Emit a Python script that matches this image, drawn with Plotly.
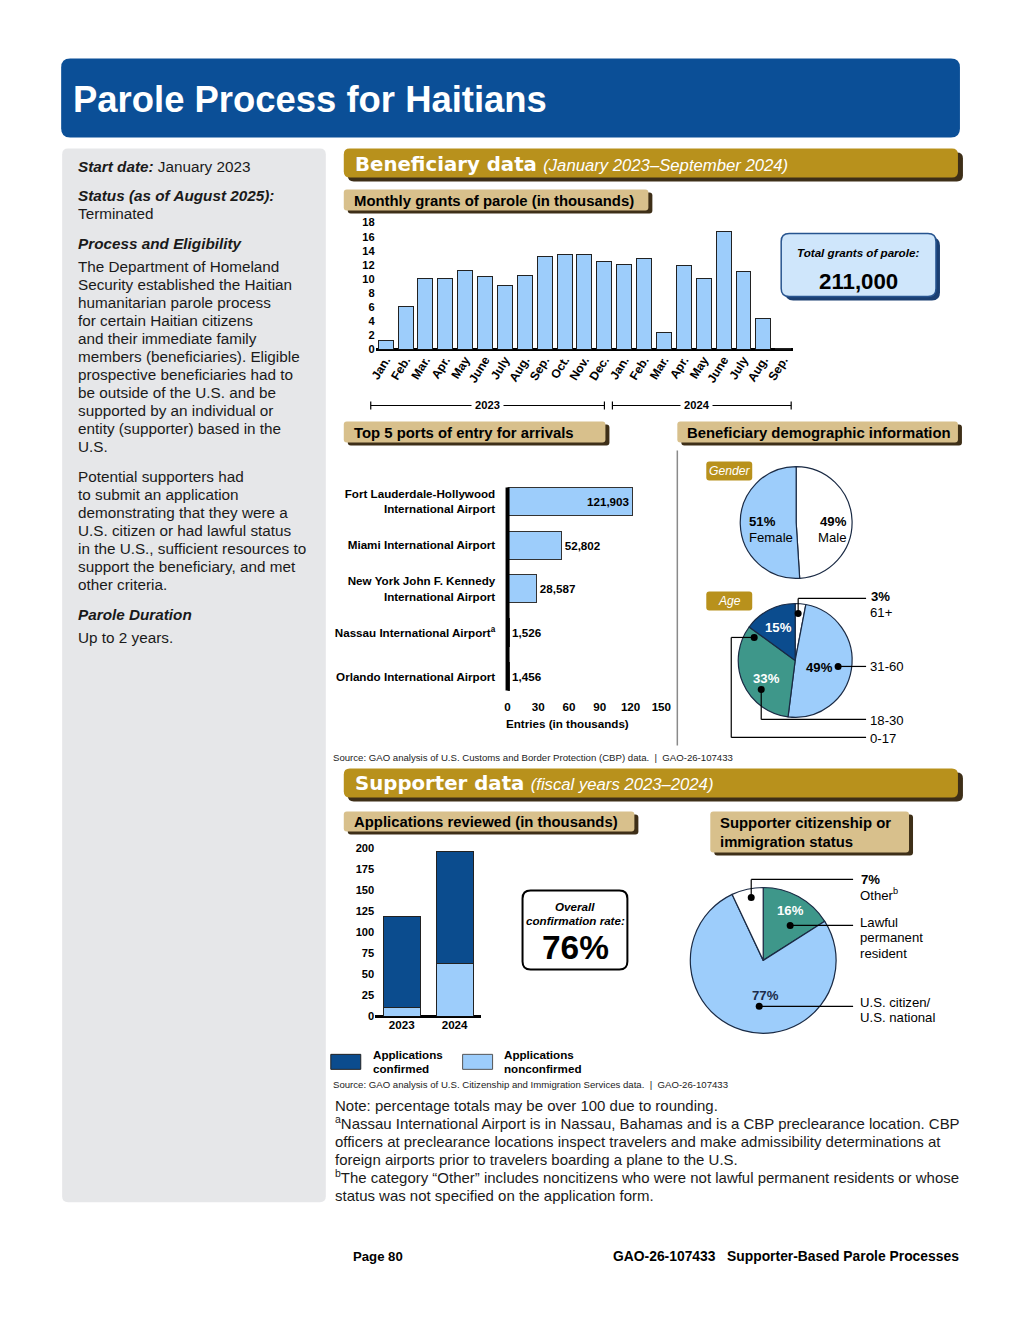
import plotly.graph_objects as go

# ---------------- data ----------------
months = ['Jan.', 'Feb.', 'Mar.', 'Apr.', 'May', 'June', 'July', 'Aug.', 'Sep.', 'Oct.', 'Nov.', 'Dec.',
          'Jan.', 'Feb.', 'Mar.', 'Apr.', 'May', 'June', 'July', 'Aug.', 'Sep.']
monthly_grants = [1.3, 6.1, 10.0, 10.0, 11.2, 10.4, 9.1, 10.5, 13.2, 13.5, 13.5, 12.5,
                  12.1, 12.9, 2.4, 11.9, 10.0, 16.7, 11.1, 4.4, 0.2]
monthly_ticks = [0, 2, 4, 6, 8, 10, 12, 14, 16, 18]

ports = ['Fort Lauderdale-Hollywood<br>International Airport', 'Miami International Airport',
         'New York John F. Kennedy<br>International Airport', 'Nassau International Airport<sup>a</sup>',
         'Orlando International Airport']
port_entries = [121.903, 52.802, 28.587, 1.526, 1.456]   # thousands
port_ticks = [0, 30, 60, 90, 120, 150]

gender_labels = ['Male', 'Female']
gender_values = [49, 51]
age_labels = ['61+', '31-60', '18-30', '0-17']
age_values = [3, 49, 33, 15]

app_years = ['2023', '2024']
app_confirmed = [109, 133]
app_nonconfirmed = [10, 63]
app_ticks = [0, 25, 50, 75, 100, 125, 150, 175, 200]

sup_labels = ['Lawful permanent resident', 'U.S. citizen/U.S. national', 'Other']
sup_values = [16, 77, 7]

# ---------------- styling ----------------
OFF = 8
W, H = 1020 - 2 * OFF, 1320 - 2 * OFF
# calibration of the page -> screenshot mapping
AX, BX = 5.9, 0.9844
AY, BY = 5.5, 0.991
FS = 1 / 0.9875

ARIAL = 'Liberation Sans, Arial, sans-serif'
HEAVY = 'DejaVu Sans, Liberation Sans, sans-serif'
LB = '#9DCDFB'
TEAL = '#3E978A'
DB = '#0B4C8E'
GOLD = '#B8911C'
TAN = '#D8C08C'
SHADOW = '#3E2F18'
BLUE = '#0B4F97'


def X(p):
    q = (p - AX) / BX
    return (q - OFF) / W


def Y(p):
    q = (p - AY) / BY
    return 1 - (q - OFF) / H


def f(v):
    return f'{v:.5f}'


def rrect_path(x0, y0, x1, y1, r):
    P = lambda x, y: f'{f(X(x))},{f(Y(y))}'
    return (f'M{P(x0 + r, y0)} L{P(x1 - r, y0)} Q{P(x1, y0)} {P(x1, y0 + r)} '
            f'L{P(x1, y1 - r)} Q{P(x1, y1)} {P(x1 - r, y1)} L{P(x0 + r, y1)} '
            f'Q{P(x0, y1)} {P(x0, y1 - r)} L{P(x0, y0 + r)} Q{P(x0, y0)} {P(x0 + r, y0)} Z')


shapes = []
ann = []


def box(x0, y0, x1, y1, r, fill, line=None, lw=0, layer='below'):
    shapes.append(dict(type='path', path=rrect_path(x0, y0, x1, y1, r), xref='paper', yref='paper',
                       fillcolor=fill, line=dict(color=line or fill, width=lw), layer=layer))


def line(pts, color='black', width=1.2, layer='above'):
    for (xa, ya), (xb, yb) in zip(pts[:-1], pts[1:]):
        shapes.append(dict(type='line', x0=X(xa), y0=Y(ya), x1=X(xb), y1=Y(yb), xref='paper',
                           yref='paper', line=dict(color=color, width=width), layer=layer))


def dot(x, y, r=3.5):
    shapes.append(dict(type='circle', x0=X(x - r), y0=Y(y + r), x1=X(x + r), y1=Y(y - r), xref='paper',
                       yref='paper', fillcolor='black', line=dict(color='black', width=0), layer='above'))


def T(x, y, s, size=11, color='black', xa='left', ya='middle', family=ARIAL, bg=None):
    d = dict(x=X(x), y=Y(y), xref='paper', yref='paper', text=s, showarrow=False, xanchor=xa,
             yanchor=ya, font=dict(size=size * FS, color=color, family=family), align=xa, borderpad=0)
    if bg:
        d['bgcolor'] = bg
    ann.append(d)


def section(y0, y1, title, sub):
    box(347, y0 + 4, 963, y1 + 4, 6, SHADOW)
    box(343, y0, 958, y1, 6, GOLD)
    T(353, (y0 + y1) / 2 + 1,
      f'<b>{title}</b> <i><span style="font-family:Liberation Sans; font-size:{16.5 * FS:.1f}px">{sub}</span></i>',
      size=19.5, color='white', family=HEAVY)


def subhead(x0, y0, x1, y1, lines):
    box(x0 + 4, y0 + 3, x1 + 4, y1 + 3, 3, SHADOW)
    box(x0, y0, x1, y1, 3, TAN)
    T(x0 + 9, (y0 + y1) / 2 + 1, '<br>'.join(f'<b>{l}</b>' for l in lines), size=14.7)


# ---------------- page furniture ----------------
box(60, 58, 960, 137, 9, BLUE)
T(71, 99, '<b>Parole Process for Haitians</b>', size=36, color='white')

box(61, 148, 325, 1202, 6, '#E6E7E9')
left_lines = [
    (166, '<b><i>Start date:</i></b> January 2023'),
    (195, '<b><i>Status (as of August 2025):</i></b>'),
    (213, 'Terminated'),
    (243, '<b><i>Process and Eligibility</i></b>'),
    (266, 'The Department of Homeland'),
    (284, 'Security established the Haitian'),
    (302, 'humanitarian parole process'),
    (320, 'for certain Haitian citizens'),
    (338, 'and their immediate family'),
    (356, 'members (beneficiaries). Eligible'),
    (374, 'prospective beneficiaries had to'),
    (392, 'be outside of the U.S. and be'),
    (410, 'supported by an individual or'),
    (428, 'entity (supporter) based in the'),
    (446, 'U.S.'),
    (476, 'Potential supporters had'),
    (494, 'to submit an application'),
    (512, 'demonstrating that they were a'),
    (530, 'U.S. citizen or had lawful status'),
    (548, 'in the U.S., sufficient resources to'),
    (566, 'support the beneficiary, and met'),
    (584, 'other criteria.'),
    (614, '<b><i>Parole Duration</i></b>'),
    (637, 'Up to 2 years.'),
]
for yy, s in left_lines:
    T(76, yy, s, size=15.1, color='#1a1a1a')

section(148, 177, 'Beneficiary data', '(January 2023–September 2024)')
section(768, 797, 'Supporter data', '(fiscal years 2023–2024)')

subhead(343, 189, 648, 210, ['Monthly grants of parole (in thousands)'])
subhead(343, 421, 605, 442, ['Top 5 ports of entry for arrivals'])
subhead(677, 421, 958, 442, ['Beneficiary demographic information'])
subhead(343, 811, 634, 831, ['Applications reviewed (in thousands)'])
subhead(710, 811, 909, 852, ['Supporter citizenship or', 'immigration status'])

# total grants box
box(785, 237, 940, 300, 8, '#1B3F72')
box(781, 233, 936, 296, 8, '#CFE6FB', line='#27548F', lw=1.5)
T(858, 252, '<b><i>Total grants of parole:</i></b>', size=11.5, xa='center')
T(858, 281, '<b>211,000</b>', size=22, xa='center')

# year brackets
line([(370, 405), (604, 405)], width=1.2)
line([(370, 401), (370, 409)], width=1.2)
line([(604, 401), (604, 409)], width=1.2)
line([(612, 405), (791, 405)], width=1.2)
line([(612, 401), (612, 409)], width=1.2)
line([(791, 401), (791, 409)], width=1.2)
T(487, 405, '<b> 2023 </b>', size=11, xa='center', bg='white')
T(696, 405, '<b> 2024 </b>', size=11, xa='center', bg='white')

# ports axis line + title
line([(507, 487), (507, 690)], width=4)
T(567, 723, '<b>Entries (in thousands)</b>', size=11.5, xa='center')

# divider
line([(677, 450), (677, 745)], color='#8a8a8a', width=1.5, layer='below')

# demographic tags
box(706, 461, 752, 480, 3, GOLD)
T(729, 471, '<i>Gender</i>', size=12, color='white', xa='center')
box(706, 591, 752, 610, 3, GOLD)
T(729, 601, '<i>Age</i>', size=12, color='white', xa='center')

# gender labels
T(762, 521, '<b>51%</b>', size=13, xa='center')
T(771, 537, 'Female', size=13, xa='center')
T(833, 521, '<b>49%</b>', size=13, xa='center')
T(832, 537, 'Male', size=13, xa='center')

# age labels / leaders
T(778, 627, '<b>15%</b>', size=13, color='white', xa='center')
T(819, 667, '<b>49%</b>', size=13, xa='center')
T(766, 678, '<b>33%</b>', size=13, color='white', xa='center')
line([(798, 613), (798, 598), (866, 598)])
dot(798, 613)
T(870, 596, '<b>3%</b>', size=13)
T(869, 612, '61+', size=13)
line([(838, 666), (866, 666)])
dot(838, 666)
T(869, 666, '31-60', size=13)
line([(761, 689), (761, 719), (866, 719)])
dot(761, 689)
T(869, 720, '18-30', size=13)
line([(754, 637), (731, 637), (731, 737), (866, 737)])
dot(754, 637)
T(869, 738, '0-17', size=13)

# sources
T(331, 757, 'Source: GAO analysis of U.S. Customs and Border Protection (CBP) data.  |  GAO-26-107433',
  size=9.5, color='#222')
T(331, 1084, 'Source: GAO analysis of U.S. Citizenship and Immigration Services data.  |  GAO-26-107433',
  size=9.5, color='#222')

# confirmation box
box(522, 890, 627, 969, 8, 'white', line='black', lw=2)
T(575, 906, '<b><i>Overall</i></b>', size=11.5, xa='center')
T(575, 920, '<b><i>confirmation rate:</i></b>', size=11.5, xa='center')
T(575, 947, '<b>76%</b>', size=33, xa='center')

# apps legend
box(330, 1054, 360, 1069, 0, DB, line='#222', lw=1)
T(371, 1054, '<b>Applications</b>', size=11.5)
T(371, 1068, '<b>confirmed</b>', size=11.5)
box(462, 1054, 492, 1069, 0, LB, line='#555', lw=1)
T(502, 1054, '<b>Applications</b>', size=11.5)
T(502, 1068, '<b>nonconfirmed</b>', size=11.5)

# supporter pie labels
T(790, 910, '<b>16%</b>', size=13, color='white', xa='center')
T(765, 995, '<b>77%</b>', size=13, color='#1b2b4a', xa='center')
line([(751, 897), (751, 879), (853, 879)])
dot(751, 897)
T(860, 879, '<b>7%</b>', size=13)
T(859, 894, 'Other<sup>b</sup>', size=13)
line([(790, 925), (853, 925)])
dot(790, 925)
T(859, 922, 'Lawful', size=13)
T(859, 937, 'permanent', size=13)
T(859, 953, 'resident', size=13)
line([(759, 1006), (853, 1006)])
dot(759, 1006)
T(859, 1002, 'U.S. citizen/', size=13)
T(859, 1017, 'U.S. national', size=13)

# notes
notes = [
    (1105, 'Note: percentage totals may be over 100 due to rounding.'),
    (1123, '<sup>a</sup>Nassau International Airport is in Nassau, Bahamas and is a CBP preclearance location. CBP'),
    (1141, 'officers at preclearance locations inspect travelers and make admissibility determinations at'),
    (1159, 'foreign airports prior to travelers boarding a plane to the U.S.'),
    (1177, '<sup>b</sup>The category “Other” includes noncitizens who were not lawful permanent residents or whose'),
    (1195, 'status was not specified on the application form.'),
]
for yy, s in notes:
    T(333, yy, s, size=14.8, color='#1a1a1a')

T(351, 1256, '<b>Page 80</b>', size=13)
T(960, 1256, '<b>GAO-26-107433   Supporter-Based Parole Processes</b>', size=13.7, xa='right')

# ---------------- traces ----------------
fig = go.Figure()
BLACK_OUTLINE = dict(color='#222', width=1)

fig.add_trace(go.Bar(x=list(range(len(months))), y=monthly_grants, width=0.75,
                     marker=dict(color=LB, line=BLACK_OUTLINE), xaxis='x', yaxis='y',
                     hoverinfo='skip', showlegend=False))

port_text = [f'{round(v * 1000):,}' for v in port_entries]
fig.add_trace(go.Bar(y=list(range(len(ports))), x=port_entries, orientation='h', width=0.64,
                     marker=dict(color=LB, line=dict(color='#333', width=1)),
                     text=port_text, textposition=['inside'] + ['outside'] * 4,
                     insidetextanchor='end', cliponaxis=False,
                     textfont=dict(size=11.5 * FS, color='black', family=ARIAL, weight='bold'),
                     xaxis='x2', yaxis='y2', hoverinfo='skip', showlegend=False))

fig.add_trace(go.Bar(x=[0, 1], y=app_nonconfirmed, width=0.7, marker=dict(color=LB, line=BLACK_OUTLINE),
                     xaxis='x3', yaxis='y3', hoverinfo='skip', showlegend=False))
fig.add_trace(go.Bar(x=[0, 1], y=app_confirmed, width=0.7, marker=dict(color=DB, line=BLACK_OUTLINE),
                     xaxis='x3', yaxis='y3', hoverinfo='skip', showlegend=False))

pie_common = dict(sort=False, direction='clockwise', rotation=0, textinfo='none', hoverinfo='skip',
                  showlegend=False)
fig.add_trace(go.Pie(labels=gender_labels, values=gender_values,
                     marker=dict(colors=['white', LB], line=dict(color='#1a2a44', width=1.2)),
                     domain=dict(x=[X(740), X(852)], y=[Y(578), Y(466)]), **pie_common))
fig.add_trace(go.Pie(labels=age_labels, values=age_values,
                     marker=dict(colors=['white', LB, TEAL, DB], line=dict(color='#1a2a44', width=1.2)),
                     domain=dict(x=[X(738), X(852)], y=[Y(717), Y(603)]), **pie_common))
fig.add_trace(go.Pie(labels=sup_labels, values=sup_values,
                     marker=dict(colors=[TEAL, LB, 'white'], line=dict(color='#1a2a44', width=1.2)),
                     domain=dict(x=[X(690), X(836)], y=[Y(1033), Y(887)]), **pie_common))

BOLD11 = dict(size=11 * FS, color='black', family=ARIAL, weight='bold')
BOLD115 = dict(size=11.5 * FS, color='black', family=ARIAL, weight='bold')
BOLD12 = dict(size=12 * FS, color='black', family=ARIAL, weight='bold')

fig.update_layout(
    width=W, height=H, margin=dict(l=0, r=0, t=0, b=0),
    paper_bgcolor='white', plot_bgcolor='rgba(0,0,0,0)', barmode='stack', showlegend=False,
    shapes=shapes, annotations=ann,
    xaxis=dict(domain=[X(375), X(793)], anchor='y', range=[-0.5, 20.5], tickmode='array',
               tickvals=list(range(len(months))), ticktext=months, tickangle=-58, tickfont=BOLD12,
               showgrid=False, zeroline=False, showline=False, ticks=''),
    yaxis=dict(domain=[Y(349), Y(222)], anchor='x', range=[0, 18], tickvals=monthly_ticks,
               tickfont=BOLD11, showgrid=False, zeroline=True, zerolinecolor='black', zerolinewidth=3,
               showline=False, ticks=''),
    xaxis2=dict(domain=[X(507), X(661)], anchor='y2', range=[0, 150], tickvals=port_ticks,
                tickfont=BOLD115, showgrid=False, zeroline=False, showline=False, ticks=''),
    yaxis2=dict(domain=[Y(698), Y(479)], anchor='x2', range=[4.5, -0.5], tickmode='array',
                tickvals=list(range(len(ports))), ticktext=ports, tickfont=BOLD115, showgrid=False,
                zeroline=False, showline=False, ticks='outside', ticklen=9, tickcolor='rgba(0,0,0,0)'),
    xaxis3=dict(domain=[X(374.5), X(480.5)], anchor='y3', range=[-0.5, 1.5], tickmode='array',
                tickvals=[0, 1], ticktext=app_years, tickfont=BOLD115, showgrid=False, zeroline=False,
                showline=False, ticks=''),
    yaxis3=dict(domain=[Y(1016), Y(848)], anchor='x3', range=[0, 200], tickvals=app_ticks,
                tickfont=BOLD11, showgrid=False, zeroline=True, zerolinecolor='black', zerolinewidth=3,
                showline=False, ticks=''),
)

fig.write_html('out.html')
